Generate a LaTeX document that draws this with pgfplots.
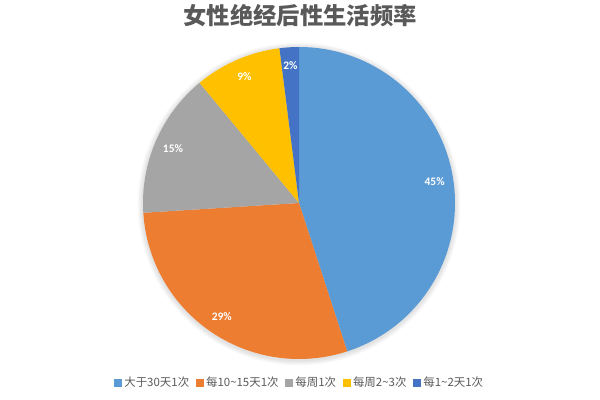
\documentclass[border=0pt]{standalone}
\usepackage{pgfplots}
\usepackage{pgfplotstable}
\usepackage{fontspec}
\pgfplotsset{compat=1.18}
\setmainfont{Carlito}
\newfontfamily\cjk{Noto Sans CJK SC}

\definecolor{pie0}{HTML}{5B9BD5}
\definecolor{pie1}{HTML}{ED7D31}
\definecolor{pie2}{HTML}{A5A5A5}
\definecolor{pie3}{HTML}{FFC000}
\definecolor{pie4}{HTML}{4472C4}
\definecolor{txt}{HTML}{595959}

% share of each answer, percent, clockwise from 12 o'clock
\pgfplotstableread{
share
45
29
15
9
2
}\pietable

% start / end / middle angle of every slice
\xdef\cum{0}
\pgfplotstableforeachcolumnelement{share}\of\pietable\as\v{%
  \pgfmathsetmacro\a{90-\cum*3.6}%
  \pgfmathsetmacro\b{90-(\cum+\v)*3.6}%
  \pgfmathsetmacro\m{(\a+\b)/2}%
  \expandafter\xdef\csname pieA\pgfplotstablerow\endcsname{\a}%
  \expandafter\xdef\csname pieB\pgfplotstablerow\endcsname{\b}%
  \expandafter\xdef\csname pieM\pgfplotstablerow\endcsname{\m}%
  \expandafter\xdef\csname pieV\pgfplotstablerow\endcsname{\v}%
  \pgfmathparse{\cum+\v}\xdef\cum{\pgfmathresult}%
}

\begin{document}
\begin{tikzpicture}
\begin{axis}[
  width=450pt, height=300pt, scale only axis,
  xmin=-299, xmax=301, ymin=-197, ymax=203,
  hide axis, clip=false,
  legend columns=5,
  legend style={at={(0.5,0.0425)}, anchor=center, draw=none, fill=none,
    font=\cjk\fontsize{8.6}{10}\selectfont, text=txt,
    /tikz/every even column/.append style={column sep=3pt},
    inner sep=0pt},
  legend image code/.code={\fill[#1] (0pt,-2.6pt) rectangle (5.2pt,2.6pt);},
]
% soft shadow
\pgfplotsinvokeforeach{1,...,5}{
  \fill[black, opacity=0.025] (axis cs:0,-1) circle[radius={117pt+#1*0.8pt}];
}
\pgfplotsinvokeforeach{0,...,4}{
  \fill[pie#1] (axis cs:0,0)
    -- ([shift={(\csname pieA#1\endcsname:117pt)}]axis cs:0,0)
    arc[start angle=\csname pieA#1\endcsname, end angle=\csname pieB#1\endcsname, radius=117pt]
    -- cycle;
  \node[white, font=\bfseries\fontsize{8.6}{10}\selectfont]
    at ([shift={(\csname pieM#1\endcsname:103pt)}]axis cs:0,0)
    {\csname pieV#1\endcsname\%};
}
\node[txt, font=\cjk\bfseries\fontsize{17.5}{20}\selectfont] at (axis cs:1,187) {女性绝经后性生活频率};
\addlegendimage{pie0}\addlegendentry{大于30天1次}
\addlegendimage{pie1}\addlegendentry{每10\textasciitilde15天1次}
\addlegendimage{pie2}\addlegendentry{每周1次}
\addlegendimage{pie3}\addlegendentry{每周2\textasciitilde3次}
\addlegendimage{pie4}\addlegendentry{每1\textasciitilde2天1次}
\end{axis}
\pgfresetboundingbox
\path (current axis.south west) rectangle (current axis.north east);
\end{tikzpicture}
\end{document}
